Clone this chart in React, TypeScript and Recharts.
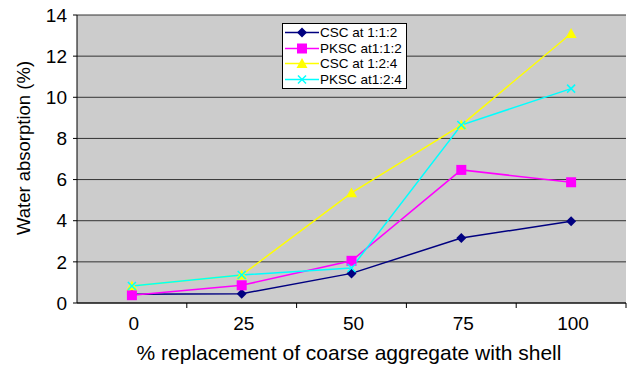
import React from "react";
import {
  LineChart,
  Line,
  XAxis,
  YAxis,
  CartesianGrid,
  Legend,
} from "recharts";

// % replacement of coarse aggregate with shell
const replacement = [0, 25, 50, 75, 100];
// Water absorption (%) for each mix
const cscMix112 = [0.42, 0.45, 1.44, 3.16, 3.97];
const pkscMix112 = [0.38, 0.86, 2.05, 6.47, 5.87];
const cscMix124 = [0.83, 1.36, 5.35, 8.65, 13.1];
const pkscMix124 = [0.83, 1.36, 1.7, 8.65, 10.42];

const yTicks = [0, 2, 4, 6, 8, 10, 12, 14];
// category labels plus the half-step positions that carry the tick marks
const xTicks = [0, 12.5, 25, 37.5, 50, 62.5, 75, 87.5, 100, 112.5];

const data = replacement.map((r, i) => ({
  r,
  csc112: cscMix112[i],
  pksc112: pkscMix112[i],
  csc124: cscMix124[i],
  pksc124: pkscMix124[i],
}));

const FONT = "'Liberation Sans', Arial, sans-serif";

type Shape = "diamond" | "square" | "triangle" | "cross";

const Marker = ({ cx, cy, shape, color }: { cx: number; cy: number; shape: Shape; color: string }) => {
  if (cx == null || cy == null) return null;
  if (shape === "diamond") {
    const s = 5;
    return <polygon points={`${cx},${cy - s} ${cx + s},${cy} ${cx},${cy + s} ${cx - s},${cy}`} fill={color} />;
  }
  if (shape === "square") {
    const s = 5;
    return <rect x={cx - s} y={cy - s} width={2 * s} height={2 * s} fill={color} />;
  }
  if (shape === "triangle") {
    const s = 5.5;
    return <polygon points={`${cx},${cy - s} ${cx + s},${cy + s * 0.8} ${cx - s},${cy + s * 0.8}`} fill={color} />;
  }
  const s = 4;
  return (
    <g stroke={color} strokeWidth={1.5}>
      <line x1={cx - s} y1={cy - s} x2={cx + s} y2={cy + s} />
      <line x1={cx - s} y1={cy + s} x2={cx + s} y2={cy - s} />
    </g>
  );
};

const series: { key: string; name: string; color: string; shape: Shape }[] = [
  { key: "csc112", name: "CSC at 1:1:2", color: "#000080", shape: "diamond" },
  { key: "pksc112", name: "PKSC at1:1:2", color: "#FF00FF", shape: "square" },
  { key: "csc124", name: "CSC at 1:2:4", color: "#FFFF00", shape: "triangle" },
  { key: "pksc124", name: "PKSC at1:2:4", color: "#00FFFF", shape: "cross" },
];

const XTick = (props: any) => {
  const { x, y, payload } = props;
  const v = payload.value;
  if (v % 25 === 0) {
    return (
      <text x={x + 2} y={y + 27} textAnchor="middle" fontSize={19} fontFamily={FONT} fill="#000">
        {v}
      </text>
    );
  }
  return <line x1={x} x2={x} y1={y} y2={y + 5} stroke="#000" />;
};

const LegendBox = () => (
  <div
    style={{
      background: "#fff",
      border: "1px solid #000",
      padding: "1px 4px 1px 1px",
      fontFamily: FONT,
      fontSize: 13.5,
      lineHeight: "15.5px",
      color: "#000",
    }}
  >
    {series.map((s) => (
      <div key={s.key} style={{ display: "flex", alignItems: "center", whiteSpace: "nowrap" }}>
        <svg width={36} height={15} style={{ flex: "none" }}>
          <line x1={1} x2={35} y1={7.5} y2={7.5} stroke={s.color} strokeWidth={1.5} />
          <Marker cx={18} cy={7.5} shape={s.shape} color={s.color} />
        </svg>
        <span>{s.name}</span>
      </div>
    ))}
  </div>
);

export default function App() {
  return (
    <div style={{ position: "absolute", left: 0, top: 0, width: 629, height: 371, background: "#fff" }}>
      <LineChart width={629} height={371} data={data} margin={{ top: 15, right: 3, bottom: 38, left: 17 }}>
        <CartesianGrid vertical={false} stroke="#333" fill="#cccccc" />
        <XAxis
          dataKey="r"
          type="number"
          domain={[-12.5, 112.5]}
          ticks={xTicks}
          interval={0}
          tickLine={false}
          tickSize={0}
          tickMargin={0}
          height={30}
          stroke="#000"
          tick={<XTick />}
          label={() => (
            <text x={349} y={360} textAnchor="middle" fontSize={21} fontFamily={FONT} fill="#000">
              % replacement of coarse aggregate with shell
            </text>
          )}
        />
        <YAxis
          domain={[0, 14]}
          ticks={yTicks}
          interval={0}
          width={60}
          tickSize={4}
          tickMargin={6}
          stroke="#000"
          tick={{ fontSize: 19, fontFamily: FONT, fill: "#000" }}
          label={() => (
            <text
              x={30}
              y={148}
              transform="rotate(-90 30 148)"
              textAnchor="middle"
              fontSize={18.5}
              fontFamily={FONT}
              fill="#000"
            >
              Water absorption (%)
            </text>
          )}
        />
        <Legend
          layout="vertical"
          align="center"
          verticalAlign="middle"
          wrapperStyle={{ position: "absolute", left: 282, top: 23, width: "auto" }}
          content={<LegendBox />}
        />
        {series.map((s) => (
          <Line
            key={s.key}
            dataKey={s.key}
            name={s.name}
            stroke={s.color}
            strokeWidth={1.5}
            isAnimationActive={false}
            dot={(p: any) => <Marker key={`${s.key}-${p.index}`} cx={p.cx} cy={p.cy} shape={s.shape} color={s.color} />}
            activeDot={false}
          />
        ))}
      </LineChart>
    </div>
  );
}
